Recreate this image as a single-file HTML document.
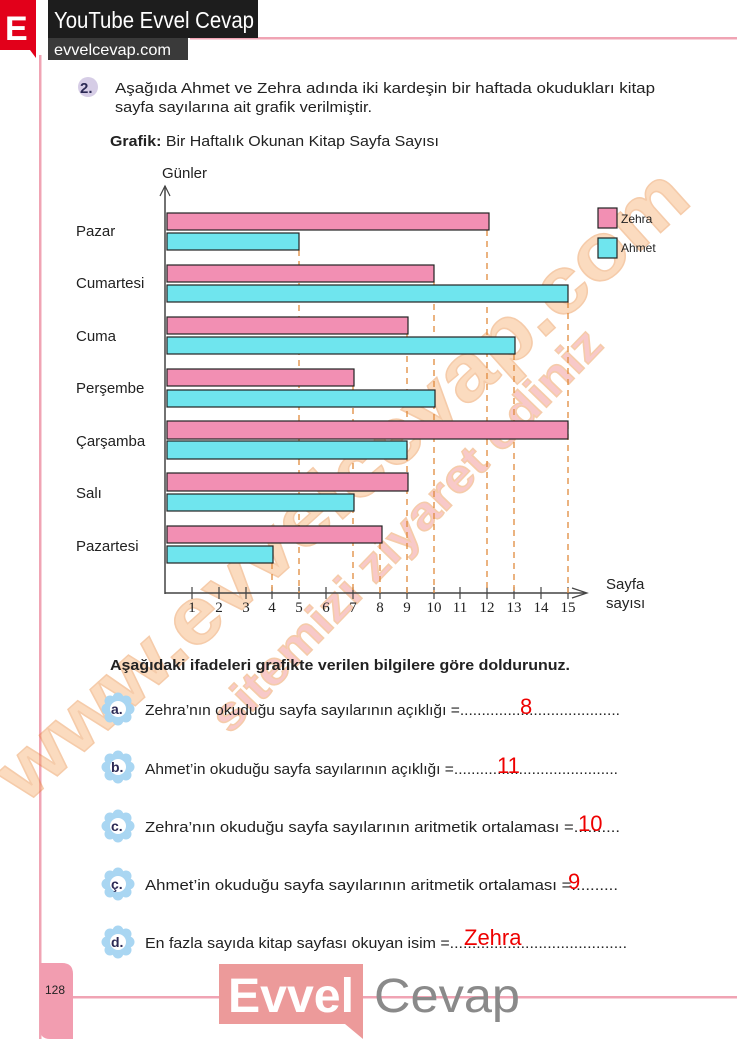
<!DOCTYPE html>
<html><head><meta charset="utf-8"><style>
html,body{margin:0;padding:0;background:#fff}
svg{display:block}
text{font-family:"Liberation Sans",sans-serif}
text.serif{font-family:"Liberation Serif",serif}
</style></head><body>
<svg width="737" height="1039" viewBox="0 0 737 1039" xmlns="http://www.w3.org/2000/svg">
<defs>
<g id="fl">
<circle cx="0" cy="-11" r="5.5" fill="#a9d6f2"/><circle cx="0" cy="11" r="5.5" fill="#a9d6f2"/>
<circle cx="-11" cy="0" r="5.5" fill="#a9d6f2"/><circle cx="11" cy="0" r="5.5" fill="#a9d6f2"/>
<circle cx="-8" cy="-8" r="5.5" fill="#a9d6f2"/><circle cx="8" cy="8" r="5.5" fill="#a9d6f2"/>
<circle cx="-8" cy="8" r="5.5" fill="#a9d6f2"/><circle cx="8" cy="-8" r="5.5" fill="#a9d6f2"/>
<circle cx="0" cy="0" r="8" fill="#fff"/>
</g>
</defs>
<!-- frame -->
<rect x="39" y="55" width="2.5" height="984" fill="#f0a4b4"/>
<rect x="190" y="37" width="547" height="2.5" fill="#f0a4b4"/>
<rect x="73" y="996" width="664" height="2.5" fill="#f0a4b4"/>
<path d="M40 963 H62 Q73 963 73 974 V1039 H50 Q40 1039 40 1029 Z" fill="#f29db0"/>
<text x="45" y="994" font-size="12" fill="#222">128</text>
<!-- header -->
<path d="M0 0 H36 V58 L30 50 H0 Z" fill="#e2001a"/>
<text x="5" y="40" font-size="34" fill="#fff" font-weight="bold">E</text>
<rect x="48" y="0" width="210" height="38" fill="#1d1d1d"/>
<text x="54" y="28" font-size="23" fill="#fff" textLength="200" lengthAdjust="spacingAndGlyphs">YouTube Evvel Cevap</text>
<rect x="48" y="38" width="140" height="22" fill="#3a3a3a"/>
<text x="54" y="55" font-size="16" fill="#fff" textLength="117" lengthAdjust="spacingAndGlyphs">evvelcevap.com</text>
<!-- watermark -->
<g opacity="0.4" font-weight="bold" fill="#f6a860" stroke="#e8802c" stroke-width="1.5">
<text x="0" y="0" font-size="80" transform="translate(25,805) rotate(-42)" textLength="900" lengthAdjust="spacingAndGlyphs">www.evvelcevap.com</text>
<text x="0" y="0" font-size="46" transform="translate(230,735) rotate(-46)" textLength="540" lengthAdjust="spacingAndGlyphs" fill="#f07a7a">sitemizi ziyaret ediniz</text>
</g>
<!-- question -->
<circle cx="88" cy="87" r="10" fill="#d6cde6"/>
<text x="80" y="93" font-size="15" font-weight="bold" fill="#2c2a55">2.</text>
<text x="115" y="93" font-size="15" fill="#222" textLength="540" lengthAdjust="spacingAndGlyphs">Aşağıda Ahmet ve Zehra adında iki kardeşin bir haftada okudukları kitap</text>
<text x="115" y="112" font-size="15" fill="#222" textLength="257" lengthAdjust="spacingAndGlyphs">sayfa sayılarına ait grafik verilmiştir.</text>
<text x="110" y="146" font-size="15" fill="#222" textLength="329" lengthAdjust="spacingAndGlyphs"><tspan font-weight="bold">Grafik:</tspan> Bir Haftalık Okunan Kitap Sayfa Sayısı</text>
<!-- chart axes -->
<text x="162" y="178" font-size="15" fill="#222">Günler</text>
<line x1="165" y1="186" x2="165" y2="594" stroke="#444" stroke-width="1.5"/>
<path d="M160 196 L165 186 L170 196" fill="none" stroke="#444" stroke-width="1.2"/>
<line x1="165" y1="593" x2="585" y2="593" stroke="#444" stroke-width="1.5"/>
<path d="M572 588 L587 593 L572 598" fill="none" stroke="#444" stroke-width="1.2"/>
<g stroke="#444" stroke-width="1.2">
<line x1="192" y1="587" x2="192" y2="599"/><line x1="219" y1="587" x2="219" y2="599"/><line x1="246" y1="587" x2="246" y2="599"/><line x1="272" y1="587" x2="272" y2="599"/><line x1="299" y1="587" x2="299" y2="599"/><line x1="326" y1="587" x2="326" y2="599"/><line x1="353" y1="587" x2="353" y2="599"/><line x1="380" y1="587" x2="380" y2="599"/><line x1="407" y1="587" x2="407" y2="599"/><line x1="434" y1="587" x2="434" y2="599"/><line x1="460" y1="587" x2="460" y2="599"/><line x1="487" y1="587" x2="487" y2="599"/><line x1="514" y1="587" x2="514" y2="599"/><line x1="541" y1="587" x2="541" y2="599"/><line x1="568" y1="587" x2="568" y2="599"/>
</g>
<g font-size="15" fill="#222" text-anchor="middle">
<text class="serif" x="192" y="612">1</text><text class="serif" x="219" y="612">2</text><text class="serif" x="246" y="612">3</text><text class="serif" x="272" y="612">4</text><text class="serif" x="299" y="612">5</text><text class="serif" x="326" y="612">6</text><text class="serif" x="353" y="612">7</text><text class="serif" x="380" y="612">8</text><text class="serif" x="407" y="612">9</text><text class="serif" x="434" y="612">10</text><text class="serif" x="460" y="612">11</text><text class="serif" x="487" y="612">12</text><text class="serif" x="514" y="612">13</text><text class="serif" x="541" y="612">14</text><text class="serif" x="568" y="612">15</text>
</g>
<text x="606" y="589" font-size="15" fill="#222">Sayfa</text>
<text x="606" y="608" font-size="15" fill="#222">sayısı</text>
<!-- dashed lines -->
<g stroke="#e08a3c" stroke-width="1.3" stroke-dasharray="6,5">
<line x1="272" y1="563" x2="272" y2="593"/>
<line x1="299" y1="250" x2="299" y2="593"/>
<line x1="353" y1="386" x2="353" y2="593"/>
<line x1="380" y1="543" x2="380" y2="593"/>
<line x1="407" y1="334" x2="407" y2="593"/>
<line x1="434" y1="282" x2="434" y2="593"/>
<line x1="487" y1="230" x2="487" y2="593"/>
<line x1="514" y1="354" x2="514" y2="593"/>
<line x1="568" y1="302" x2="568" y2="593"/>
</g>
<!-- bars -->
<g stroke="#222" stroke-width="1.2">
<rect x="167" y="213" width="322" height="17" fill="#f28fb3"/>
<rect x="167" y="233" width="132" height="17" fill="#6fe5ee"/>
<rect x="167" y="265" width="267" height="17" fill="#f28fb3"/>
<rect x="167" y="285" width="401" height="17" fill="#6fe5ee"/>
<rect x="167" y="317" width="241" height="17" fill="#f28fb3"/>
<rect x="167" y="337" width="348" height="17" fill="#6fe5ee"/>
<rect x="167" y="369" width="187" height="17" fill="#f28fb3"/>
<rect x="167" y="390" width="268" height="17" fill="#6fe5ee"/>
<rect x="167" y="421" width="401" height="18" fill="#f28fb3"/>
<rect x="167" y="441" width="240" height="18" fill="#6fe5ee"/>
<rect x="167" y="473" width="241" height="18" fill="#f28fb3"/>
<rect x="167" y="494" width="187" height="17" fill="#6fe5ee"/>
<rect x="167" y="526" width="215" height="17" fill="#f28fb3"/>
<rect x="167" y="546" width="106" height="17" fill="#6fe5ee"/>
<rect x="598" y="208" width="19" height="20" fill="#f28fb3"/>
<rect x="598" y="238" width="19" height="20" fill="#6fe5ee"/>
</g>
<text x="621" y="223" font-size="12" fill="#222">Zehra</text>
<text x="621" y="252" font-size="12" fill="#222">Ahmet</text>
<g font-size="15" fill="#222">
<text x="76" y="236">Pazar</text><text x="76" y="288">Cumartesi</text><text x="76" y="341">Cuma</text><text x="76" y="393">Perşembe</text><text x="76" y="446">Çarşamba</text><text x="76" y="498">Salı</text><text x="76" y="551">Pazartesi</text>
</g>
<!-- questions -->
<text x="110" y="670" font-size="15" font-weight="bold" fill="#222" textLength="460" lengthAdjust="spacingAndGlyphs">Aşağıdaki ifadeleri grafikte verilen bilgilere göre doldurunuz.</text>
<use href="#fl" x="118" y="709"/><text x="111" y="714" font-size="14" font-weight="bold" fill="#2c2a55">a.</text>
<text x="145" y="715" font-size="15" fill="#222" textLength="475" lengthAdjust="spacingAndGlyphs">Zehra’nın okuduğu sayfa sayılarının açıklığı =.....................................</text>
<text x="520" y="714" font-size="22" fill="#e00">8</text>
<use href="#fl" x="118" y="767"/><text x="111" y="772" font-size="14" font-weight="bold" fill="#2c2a55">b.</text>
<text x="145" y="774" font-size="15" fill="#222" textLength="473" lengthAdjust="spacingAndGlyphs">Ahmet’in okuduğu sayfa sayılarının açıklığı =......................................</text>
<text x="497" y="773" font-size="22" fill="#e00">11</text>
<use href="#fl" x="118" y="826"/><text x="111" y="831" font-size="14" font-weight="bold" fill="#2c2a55">c.</text>
<text x="145" y="832" font-size="15" fill="#222" textLength="475" lengthAdjust="spacingAndGlyphs">Zehra’nın okuduğu sayfa sayılarının aritmetik ortalaması =..........</text>
<text x="578" y="831" font-size="22" fill="#e00">10</text>
<use href="#fl" x="118" y="884"/><text x="111" y="889" font-size="14" font-weight="bold" fill="#2c2a55">ç.</text>
<text x="145" y="890" font-size="15" fill="#222" textLength="473" lengthAdjust="spacingAndGlyphs">Ahmet’in okuduğu sayfa sayılarının aritmetik ortalaması =..........</text>
<text x="568" y="889" font-size="22" fill="#e00">9</text>
<use href="#fl" x="118" y="942"/><text x="111" y="947" font-size="14" font-weight="bold" fill="#2c2a55">d.</text>
<text x="145" y="948" font-size="15" fill="#222" textLength="482" lengthAdjust="spacingAndGlyphs">En fazla sayıda kitap sayfası okuyan isim =........................................</text>
<text x="464" y="945" font-size="22" fill="#e00">Zehra</text>
<!-- bottom logo -->
<rect x="219" y="964" width="144" height="60" fill="#ec9a9a"/>
<path d="M345 1024 H363 V1039 Z" fill="#ec9a9a"/>
<text x="228" y="1012" font-size="48" font-weight="bold" fill="#fff" textLength="126" lengthAdjust="spacingAndGlyphs">Evvel</text>
<text x="374" y="1012" font-size="48" fill="#8a8a8a" textLength="146" lengthAdjust="spacingAndGlyphs">Cevap</text>
</svg>
</body></html>
